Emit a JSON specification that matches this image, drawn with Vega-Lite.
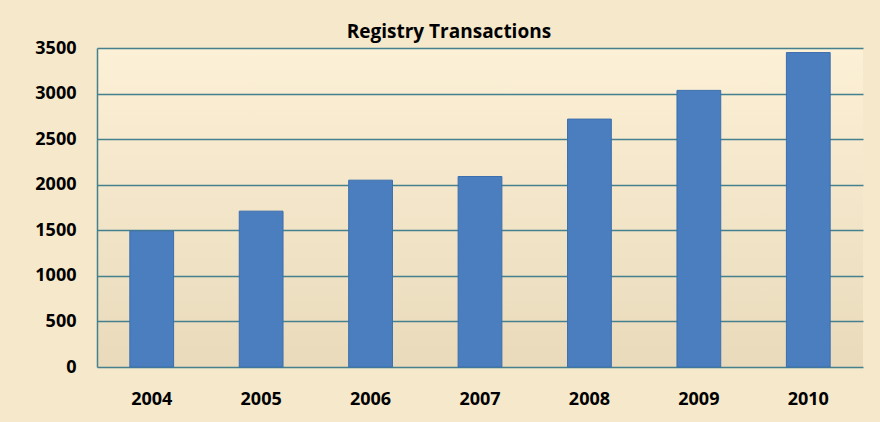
{
  "$schema": "https://vega.github.io/schema/vega-lite/v6.json",
  "autosize": {"type": "none"},
  "width": 766,
  "height": 319,
  "padding": {"left": 97, "top": 48, "right": 17, "bottom": 55},
  "background": "#F5E8CB",
  "title": {
    "text": "Registry Transactions",
    "font": "Open Sans",
    "fontSize": 19,
    "fontWeight": "bold",
    "color": "#000000",
    "anchor": "middle",
    "frame": "bounds",
    "baseline": "bottom",
    "offset": -22
  },
  "config": {
    "view": {
      "stroke": null,
      "fill": {
        "gradient": "linear",
        "x1": 0, "y1": 0, "x2": 0, "y2": 1,
        "stops": [
          {"offset": 0, "color": "#FCF0D6"},
          {"offset": 1, "color": "#E9DABB"}
        ]
      }
    }
  },
  "data": {
    "values": [
      {"year": "2004", "transactions": 1490},
      {"year": "2005", "transactions": 1710},
      {"year": "2006", "transactions": 2050},
      {"year": "2007", "transactions": 2090},
      {"year": "2008", "transactions": 2720},
      {"year": "2009", "transactions": 3035},
      {"year": "2010", "transactions": 3450}
    ]
  },
  "mark": {"type": "bar", "color": "#4A7EBF", "stroke": "#3C6EAD", "strokeWidth": 1},
  "encoding": {
    "x": {
      "field": "year",
      "type": "nominal",
      "scale": {"paddingInner": 0.6, "paddingOuter": 0.3},
      "axis": {
        "title": null,
        "labelAngle": 0,
        "ticks": false,
        "domain": false,
        "labelPadding": 23,
        "labelFont": "Open Sans",
        "labelFontSize": 18,
        "labelFontWeight": "bold",
        "labelColor": "#000000"
      }
    },
    "y": {
      "field": "transactions",
      "type": "quantitative",
      "scale": {"domain": [0, 3500], "nice": false},
      "axis": {
        "title": null,
        "format": "d",
        "values": [0, 500, 1000, 1500, 2000, 2500, 3000, 3500],
        "ticks": false,
        "domain": true,
        "domainColor": "#45808F",
        "domainWidth": 1.5,
        "grid": true,
        "gridColor": "#45808F",
        "gridWidth": 1.5,
        "gridOpacity": 1,
        "labelPadding": 21,
        "labelFont": "Open Sans",
        "labelFontSize": 18,
        "labelFontWeight": "bold",
        "labelColor": "#000000"
      }
    }
  }
}
